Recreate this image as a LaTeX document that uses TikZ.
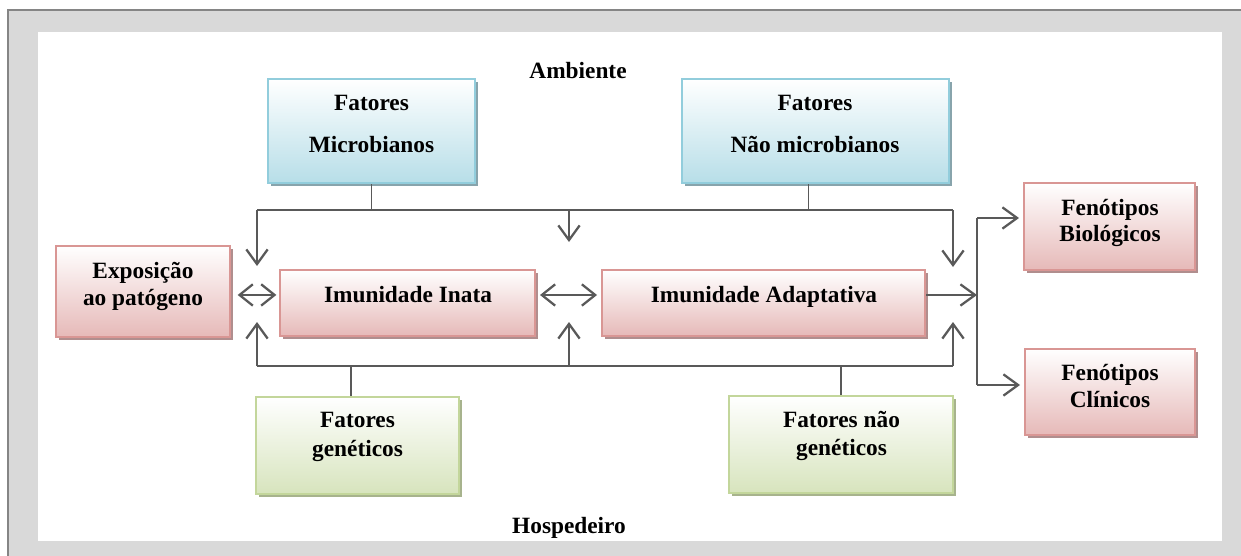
\documentclass[tikz,border=0pt]{standalone}
\usepackage{fontspec}
\setmainfont{Liberation Serif}
\usetikzlibrary{arrows.meta,shadows,fit}

\definecolor{framefill}{HTML}{D9D9D9}
\definecolor{frameline}{HTML}{858585}
\definecolor{wire}{HTML}{595959}
\definecolor{redline}{HTML}{D99694}
\definecolor{redfill}{HTML}{E6B9B8}
\definecolor{redshadow}{HTML}{B08E8E}
\definecolor{blueline}{HTML}{92CDDC}
\definecolor{bluefill}{HTML}{B7DEE8}
\definecolor{blueshadow}{HTML}{88A4AC}
\definecolor{greenline}{HTML}{C3D69B}
\definecolor{greenfill}{HTML}{D7E4BD}
\definecolor{greenshadow}{HTML}{A7B38D}

\tikzset{
  box/.style={rectangle, inner sep=0pt, line width=1.5pt, top color=white},
  redbox/.style={box, draw=redline, bottom color=redfill,
    drop shadow={shadow xshift=2.6pt, shadow yshift=-2.6pt, fill=redshadow, opacity=1}},
  bluebox/.style={box, draw=blueline, bottom color=bluefill,
    drop shadow={shadow xshift=2.6pt, shadow yshift=-2.6pt, fill=blueshadow, opacity=1}},
  greenbox/.style={box, draw=greenline, bottom color=greenfill,
    drop shadow={shadow xshift=2.6pt, shadow yshift=-2.6pt, fill=greenshadow, opacity=1}},
  txt/.style={inner sep=0pt, align=center, font=\fontsize{17.5}{20.6}\selectfont\bfseries},
  bus/.style={draw=wire, line width=1.7pt},
  stub/.style={draw=wire, line width=1.25pt},
  tip/.style={-{Straight Barb[length=11pt,width=16pt]}},
  tips/.style={{Straight Barb[length=10pt,width=16pt]}-{Straight Barb[length=10pt,width=16pt]}},
}

\begin{document}
\begin{tikzpicture}[x=0.75pt,y=-0.75pt]
\useasboundingbox (0,0) rectangle (1241,556);

% frame
\fill[framefill] (8,10) rectangle (1241,556);
\draw[frameline, line width=1.5pt] (8,556) -- (8,10) -- (1241,10);
\fill[white] (38,32) rectangle (1222,541);

% boxes
\node[bluebox, fit={(268,79) (475,183)}] (mic) {};
\node[bluebox, fit={(682,79) (949,183)}] (nmic) {};
\node[redbox, fit={(56,246) (230,337)}] (expo) {};
\node[redbox, fit={(280,270) (535,336)}] (inata) {};
\node[redbox, fit={(602,270) (925,336)}] (adapt) {};
\node[redbox, fit={(1024,183) (1195,270)}] (fbio) {};
\node[redbox, fit={(1025,349) (1195,435)}] (fcli) {};
\node[greenbox, fit={(256,397) (459,494)}] (gen) {};
\node[greenbox, fit={(729,396) (953,493)}] (ngen) {};

% texts
\node[txt, anchor=base] (amb) at (578,79) {Ambiente};
\node[txt, anchor=base] (hosp) at (569,533) {Hospedeiro};
\node[txt, anchor=north] (micT) at (371.5,95) {Fatores\\[11pt]Microbianos};
\node[txt, anchor=north] (nmicT) at (815,95) {Fatores\\[11pt]Não microbianos};
\node[txt, anchor=north] (expoT) at (143,262) {Exposição\\ao patógeno};
\node[txt, anchor=base] (inataT) at (408,302) {Imunidade Inata};
\node[txt, anchor=base] (adaptT) at (764,302) {Imunidade Adaptativa};
\node[txt, anchor=north] (fbioT) at (1110,199) {Fenótipos\\[-1pt]Biológicos};
\node[txt, anchor=north] (fcliT) at (1110,364) {Fenótipos\\Clínicos};
\node[txt, anchor=north] (genT) at (357.5,412) {Fatores\\[1.2pt]genéticos};
\node[txt, anchor=north] (ngenT) at (841.5,411) {Fatores não\\[0.5pt]genéticos};

% bus corners and arrow ends
\coordinate (tl) at (257,210);
\coordinate (tm) at (569,210);
\coordinate (tr) at (953,210);
\coordinate (bl) at (257,366);
\coordinate (bm) at (569,366);
\coordinate (br) at (953,366);
\coordinate (tlE) at (257,266);
\coordinate (tmE) at (569,242);
\coordinate (trE) at (953,267);
\coordinate (blE) at (257,322);
\coordinate (bmE) at (569,322);
\coordinate (brE) at (953,322);
\coordinate (fork) at (977,295);
\coordinate (forkT) at (977,218);
\coordinate (forkB) at (977,385);

% environment factors
\draw[stub] (mic.south) -- (mic.south |- tl);
\draw[stub] ([xshift=-5.2pt]nmic.south) -- ([xshift=-5.2pt]nmic.south |- tr);
\draw[bus] (tl) -- (tr);
\draw[bus, tip] (tl) -- (tlE);
\draw[bus, tip] (tm) -- (tmE);
\draw[bus, tip] (tr) -- (trE);

% host factors
\draw[stub] ([xshift=-4.9pt]gen.north) -- ([xshift=-4.9pt]gen.north |- bl);
\draw[stub] (ngen.north) -- (ngen.north |- br);
\draw[bus] (bl) -- (br);
\draw[bus, tip] (bl) -- (blE);
\draw[bus, tip] (bm) -- (bmE);
\draw[bus, tip] (br) -- (brE);

% immune chain
\draw[bus, tips, shorten <=5pt, shorten >=2pt] ([yshift=-2.6pt]expo.east) -- ([yshift=-2.6pt]expo.east -| inata.west);
\draw[bus, tips, shorten <=3pt, shorten >=3pt] ([yshift=6pt]inata.east) -- ([yshift=6pt]inata.east -| adapt.west);
\draw[bus, tip] ([yshift=6pt]adapt.east) -- (fork);

% phenotypes
\draw[bus] (forkT) -- (forkB);
\draw[bus, tip, shorten >=3pt] (forkT) -- (forkT -| fbio.west);
\draw[bus, tip, shorten >=3pt] (forkB) -- (forkB -| fcli.west);
\end{tikzpicture}
\end{document}
